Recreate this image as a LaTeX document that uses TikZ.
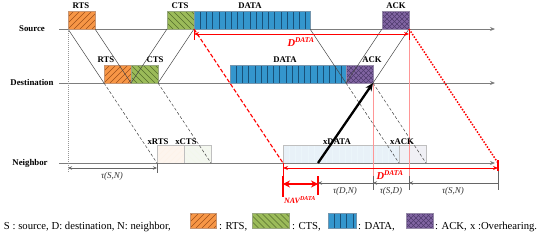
\documentclass[tikz,border=0pt]{standalone}
\usepackage{fontspec}
\setmainfont{Liberation Serif}
\usetikzlibrary{arrows.meta}
\definecolor{rtsfill}{RGB}{247,150,70}
\definecolor{rtsline}{RGB}{160,80,25}
\definecolor{ctsfill}{RGB}{155,187,89}
\definecolor{ctsline}{RGB}{85,110,45}
\definecolor{datafill}{RGB}{52,150,205}
\definecolor{dataline}{RGB}{25,80,120}
\definecolor{ackfill}{RGB}{128,100,162}
\definecolor{ackline}{RGB}{80,60,110}
\definecolor{axisgray}{RGB}{125,125,125}
\definecolor{propgray}{RGB}{70,70,70}
\definecolor{lightpink}{RGB}{255,150,150}
\definecolor{xrts}{RGB}{253,245,238}
\definecolor{xcts}{RGB}{244,247,240}
\definecolor{xdata}{RGB}{232,241,248}
\definecolor{xack}{RGB}{240,240,245}
\begin{document}
\begin{tikzpicture}[x=1pt,y=-1pt,
  every node/.style={inner sep=0pt, outer sep=0pt},
  framebox/.style={minimum height=18pt, line width=0.5pt},
  nehatch/.style={path picture={\foreach \k in {-5,...,10}{\draw[#1,line width=0.6pt] ([xshift=\k*6pt]path picture bounding box.south west) -- ++(30pt,30pt);}}},
  nwhatch/.style={path picture={\foreach \k in {0,...,14}{\draw[#1,line width=0.6pt] ([xshift=\k*6pt]path picture bounding box.south west) -- ++(-30pt,30pt);}}},
  vhatch/.style={path picture={\foreach \k in {1,...,25}{\draw[#1,line width=0.5pt] ([xshift=\k*6.2pt]path picture bounding box.south west) -- ++(0pt,30pt);}}},
  xhatch/.style={path picture={\foreach \k in {-6,...,12}{\draw[#1,line width=0.5pt] ([xshift=\k*5pt]path picture bounding box.south west) -- ++(30pt,30pt); \draw[#1,line width=0.5pt] ([xshift=\k*5pt]path picture bounding box.south west) -- ++(-30pt,30pt);}}},
  rtsbox/.style={framebox, draw=rtsline!60, fill=rtsfill, nehatch=rtsline},
  ctsbox/.style={framebox, draw=ctsline!60, fill=ctsfill, nwhatch=ctsline},
  databox/.style={framebox, draw=dataline!60, fill=datafill, vhatch=dataline},
  ackbox/.style={framebox, draw=ackline!60, fill=ackfill, xhatch=ackline},
  xbox/.style={framebox, draw=black!25, line width=0.5pt},
  rowlab/.style={font=\fontsize{8.8}{10}\selectfont\bfseries},
  lbl/.style={font=\fontsize{8.7}{10}\selectfont\bfseries},
  taulab/.style={font=\fontsize{9}{10}\selectfont\itshape, text=black!80},
  redlab/.style={font=\fontsize{10.5}{11}\selectfont\bfseries\itshape, text=red},
  navlab/.style={font=\fontsize{8}{9}\selectfont\bfseries\itshape, text=red},
  legend/.style={font=\fontsize{10.7}{12}\selectfont},
  axis/.style={draw=axisgray, line width=1pt, -{Stealth[length=5pt,width=4pt]}},
  prop/.style={draw=propgray, line width=0.5pt},
  propd/.style={draw=propgray, line width=0.5pt, dash pattern=on 3pt off 2pt},
  dim/.style={draw=black!60, line width=0.9pt},
  tick/.style={draw=black!60, line width=0.9pt},
  redtick/.style={draw=red, line width=0.9pt},
  vpink/.style={draw=lightpink, line width=0.9pt}
]
\useasboundingbox (0,0) rectangle (550,241);

% row labels
\node[rowlab] (lsrc) at (32,29) {Source};
\node[rowlab] (ldst) at (32,82) {Destination};
\node[rowlab] (lnbr) at (30,163) {Neighbor};

% axes
\coordinate (sa0) at (59,29); \coordinate (sa1) at (495,29);
\coordinate (da0) at (59,83); \coordinate (da1) at (495,83);
\coordinate (na0) at (59,163); \coordinate (na1) at (495,163);

% neighbor boxes (light)
\node[xbox, fill=xrts, minimum width=27pt, nehatch=rtsfill!12] (nRTS) at (170.5,154) {};
\node[xbox, fill=xcts, minimum width=27pt, nwhatch=ctsfill!12] (nCTS) at (197.5,154) {};
\node[xbox, fill=xdata, minimum width=116pt, vhatch=datafill!10] (nDATA) at (341,154) {};
\node[xbox, fill=xack, minimum width=27pt] (nACK) at (412.5,154) {};

% pink verticals
\coordinate (pk1) at (373,190);
\coordinate (pk2) at (409,190);

\draw[axis] (sa0) -- (sa1);
\draw[axis] (da0) -- (da1);
\draw[axis] (na0) -- (na1);

% source boxes
\node[rtsbox, minimum width=27pt] (sRTS) at (81.5,20) {};
\node[ctsbox, minimum width=27pt] (sCTS) at (180.5,20) {};
\node[databox, minimum width=116pt] (sDATA) at (252,20) {};
\node[ackbox, minimum width=27pt] (sACK) at (395.5,20) {};
% destination boxes
\node[rtsbox, minimum width=27pt] (dRTS) at (117.5,74) {};
\node[ctsbox, minimum width=27pt] (dCTS) at (144.5,74) {};
\node[databox, minimum width=116pt] (dDATA) at (288,74) {};
\node[ackbox, minimum width=27pt] (dACK) at (359.5,74) {};

\draw[vpink] (dACK.south east) -- (pk1);
\draw[vpink] (sACK.south east) -- (pk2);

% box labels
\node[lbl] (tsRTS) at (81,6) {RTS};
\node[lbl] (tsCTS) at (180,6) {CTS};
\node[lbl] (tsDATA) at (250,6) {DATA};
\node[lbl] (tsACK) at (396,6) {ACK};
\node[lbl] (tdRTS) at (106,60) {RTS};
\node[lbl] (tdCTS) at (155,60) {CTS};
\node[lbl] (tdDATA) at (285,60) {DATA};
\node[lbl] (tdACK) at (372,60) {ACK};
\node[lbl] (tnRTS) at (158,142) {xRTS};
\node[lbl] (tnCTS) at (186,142) {xCTS};
\node[lbl] (tnDATA) at (337,142) {xDATA};
\node[lbl] (tnACK) at (402,142) {xACK};

% propagation lines
\draw[prop] (sRTS.south west) -- (dRTS.south west);
\draw[prop] (sRTS.south east) -- (dRTS.south east);
\draw[propd] (dRTS.south west) -- (nRTS.south west);
\draw[prop] (dCTS.south west) -- (sCTS.south west);
\draw[prop] (dCTS.south east) -- (sCTS.south east);
\draw[propd] (dCTS.south east) -- (nCTS.south east);
\draw[prop] (sDATA.south east) -- (dDATA.south east);
\draw[prop] (dACK.south west) -- (sACK.south west);
\draw[prop] (dACK.south east) -- (sACK.south east);
\draw[propd] (dACK.south west) -- (nACK.south west);
\draw[propd] (dACK.south east) -- (nACK.south east);

% vertical dotted at RTS start
\coordinate (vd1) at (68,173);
\draw[axisgray!80, line width=0.6pt, dash pattern=on 1pt off 1pt] (sRTS.south west) -- (vd1);

% red dashed / dotted
\coordinate (nEnd) at (498,163);
\draw[red, line width=1.1pt, dash pattern=on 4pt off 2pt] (sDATA.south west) -- (nDATA.south west);
\draw[red, line width=1.5pt, dash pattern=on 1.5pt off 1.5pt] (sACK.south east) -- (nEnd);

% D^DATA at source
\coordinate (dsA) at (194,34); \coordinate (dsB) at (409,34);
\coordinate (dsT1) at (194,40); \coordinate (dsT2) at (409,40);
\draw[redtick] (sDATA.south west) -- (dsT1);
\draw[redtick] (sACK.south east) -- (dsT2);
\draw[red, line width=0.9pt, {Stealth[length=5pt,width=4pt]}-{Stealth[length=5pt,width=4pt]}] (dsA) -- (dsB);
\node[redlab] (dlabS) at (301,42) {D\textsuperscript{DATA}};

% neighbor D^DATA
\coordinate (dnA) at (283,168); \coordinate (dnB) at (498,168);
\coordinate (rt1) at (283,197); \coordinate (rt2a) at (498,160); \coordinate (rt2b) at (498,171);
\draw[redtick] (nDATA.south west) -- (rt1);
\draw[tick] (rt2b) -- (498,190);
\draw[red, line width=1.1pt] (rt2a) -- (rt2b);
\draw[red, line width=0.9pt, {Stealth[length=5pt,width=4pt]}-{Stealth[length=5pt,width=4pt]}] (dnA) -- (dnB);
\node[redlab] (dlabN) at (390,175) {D\textsuperscript{DATA}};

% left tau(S,N)
\coordinate (lt1) at (68,168); \coordinate (lt2) at (157,168); \coordinate (lt2b) at (157,173);
\draw[tick] (nRTS.south west) -- (lt2b);
\draw[dim, {Stealth[length=4pt,width=3.5pt]}-{Stealth[length=4pt,width=3.5pt]}] (lt1) -- (lt2);
\node[taulab] (tauL) at (112,176) {τ(S,N)};

% NAV
\coordinate (nv1) at (283,184); \coordinate (nv2) at (318,184);
\coordinate (nvt1) at (318,176); \coordinate (nvt2) at (318,195);
\draw[red, line width=1.6pt] (nvt1) -- (nvt2);
\draw[red, line width=1.6pt] (283,176) -- (rt1);
\draw[red, line width=1.8pt, {Stealth[length=7pt,width=7pt]}-{Stealth[length=7pt,width=7pt]}] (nv1) -- (nv2);
\node[navlab] (navl) at (300,200) {NAV\textsuperscript{DATA}};

% tau dims right
\coordinate (tr1) at (318,183); \coordinate (tr2) at (373,183);
\coordinate (tr3) at (409,183); \coordinate (tr4) at (498,183);
\draw[tick] (373,176) -- (373,190);
\draw[tick] (409,176) -- (409,190);
\draw[dim, {Stealth[length=4pt,width=3.5pt]}-] (tr1) -- (tr2);
\draw[dim, {Stealth[length=4pt,width=3.5pt]}-] (tr2) -- (tr3);
\draw[dim, {Stealth[length=4pt,width=3.5pt]}-] (tr3) -- (tr4);
\node[taulab] (tauDN) at (345,191) {τ(D,N)};
\node[taulab] (tauSD) at (391,191) {τ(S,D)};
\node[taulab] (tauSN) at (453,191) {τ(S,N)};

% black arrow
\coordinate (bk0) at (318,163);
\draw[black, line width=2.3pt, -{Stealth[length=8pt,width=7pt]}] (bk0) -- (dACK.south east);

% legend
\node[legend, anchor=base west] (legS) at (4,229) {S : source, D: destination, N: neighbor,};
\node[rtsbox, minimum width=26pt, minimum height=15pt] (legR) at (203,220.5) {};
\node[legend, anchor=base west] (legRt) at (219,229) {: RTS,};
\node[ctsbox, minimum width=37pt, minimum height=15pt] (legC) at (271,220.5) {};
\node[legend, anchor=base west] (legCt) at (292,229) {: CTS,};
\node[databox, minimum width=28pt, minimum height=15pt] (legD) at (342,220.5) {};
\node[legend, anchor=base west] (legDt) at (358,229) {: DATA,};
\node[ackbox, minimum width=27pt, minimum height=15pt] (legA) at (419.5,220.5) {};
\node[legend, anchor=base west] (legAt) at (435,229) {: ACK,};
\node[legend, anchor=base west] (legX) at (470,229) {x :Overhearing.};
\end{tikzpicture}
\end{document}
